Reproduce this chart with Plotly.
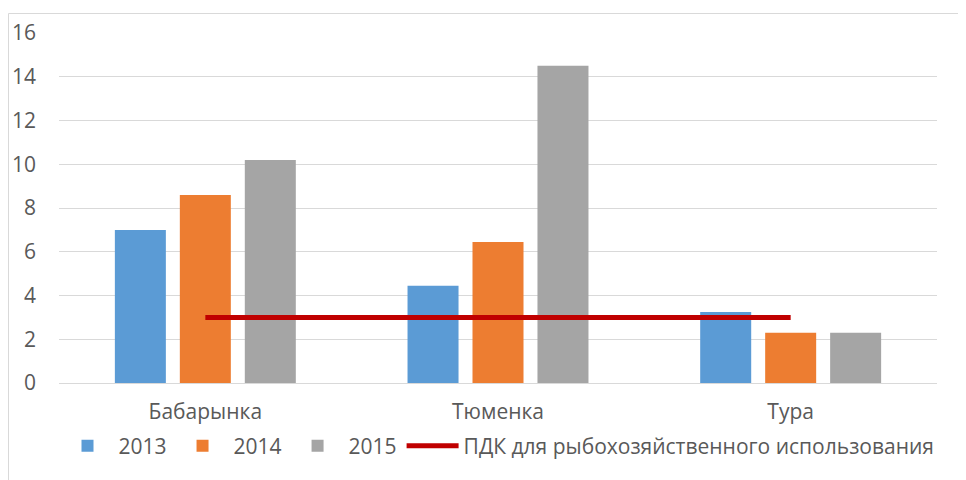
import plotly.graph_objects as go

categories = ["Бабарынка", "Тюменка", "Тура"]
years = ["2013", "2014", "2015"]
values_2013 = [7.0, 4.45, 3.25]
values_2014 = [8.6, 6.45, 2.3]
values_2015 = [10.2, 14.5, 2.3]
pdk_values = [3, 3, 3]
pdk_name = "ПДК для рыбохозяйственного использования"
y_ticks = [0, 2, 4, 6, 8, 10, 12, 14, 16]

colors = ["#5B9BD5", "#ED7D31", "#A5A5A5"]
font_family = "Open Sans, Liberation Sans, Arial, sans-serif"

fig = go.Figure()
for name, vals, col in zip(years, [values_2013, values_2014, values_2015], colors):
    fig.add_trace(go.Bar(x=categories, y=vals, name=name, marker_color=col,
                         marker_line_width=0))
fig.add_trace(go.Scatter(x=categories, y=pdk_values, name=pdk_name, mode="lines",
                         line=dict(color="#C00000", width=5)))

# page has 8px body margin, so the figure starts at (8, 8)
W, H = 958, 472
l, r, t, b = 51, 29, 25, 97
pw, ph = W - l - r, H - t - b
bx0 = (0.5 - l) / pw
bx1 = (W + 5 - l) / pw
by1 = 1 + (t - 5.5) / ph
by0 = -(b + 5) / ph

fig.add_shape(type="path", xref="paper", yref="paper",
              path=f"M {bx0} {by0} L {bx0} {by1} L {bx1} {by1}",
              line=dict(color="#D9D9D9", width=1))

fig.update_layout(
    width=W, height=H,
    margin=dict(l=l, r=r, t=t, b=b, autoexpand=False),
    paper_bgcolor="white", plot_bgcolor="white",
    barmode="group", bargap=0.334, bargroupgap=0.215,
    font=dict(family=font_family, size=21, color="#595959"),
    showlegend=True,
    legend=dict(orientation="h", x=0.5, xanchor="center", y=-0.18, yanchor="middle",
                font=dict(size=21, color="#595959"), itemwidth=52,
                traceorder="normal"),
    xaxis=dict(showgrid=False, showline=False, ticks="", tickfont=dict(size=21),
               ticklabelstandoff=14, automargin=False),
    yaxis=dict(range=[0, 16], tickvals=y_ticks, showgrid=True, gridcolor="#D9D9D9",
               gridwidth=1, zeroline=True, zerolinecolor="#D9D9D9", zerolinewidth=1,
               showline=False, ticks="", tickfont=dict(size=21), ticklabelstandoff=22,
               automargin=False),
)

fig.write_html("out.html")
